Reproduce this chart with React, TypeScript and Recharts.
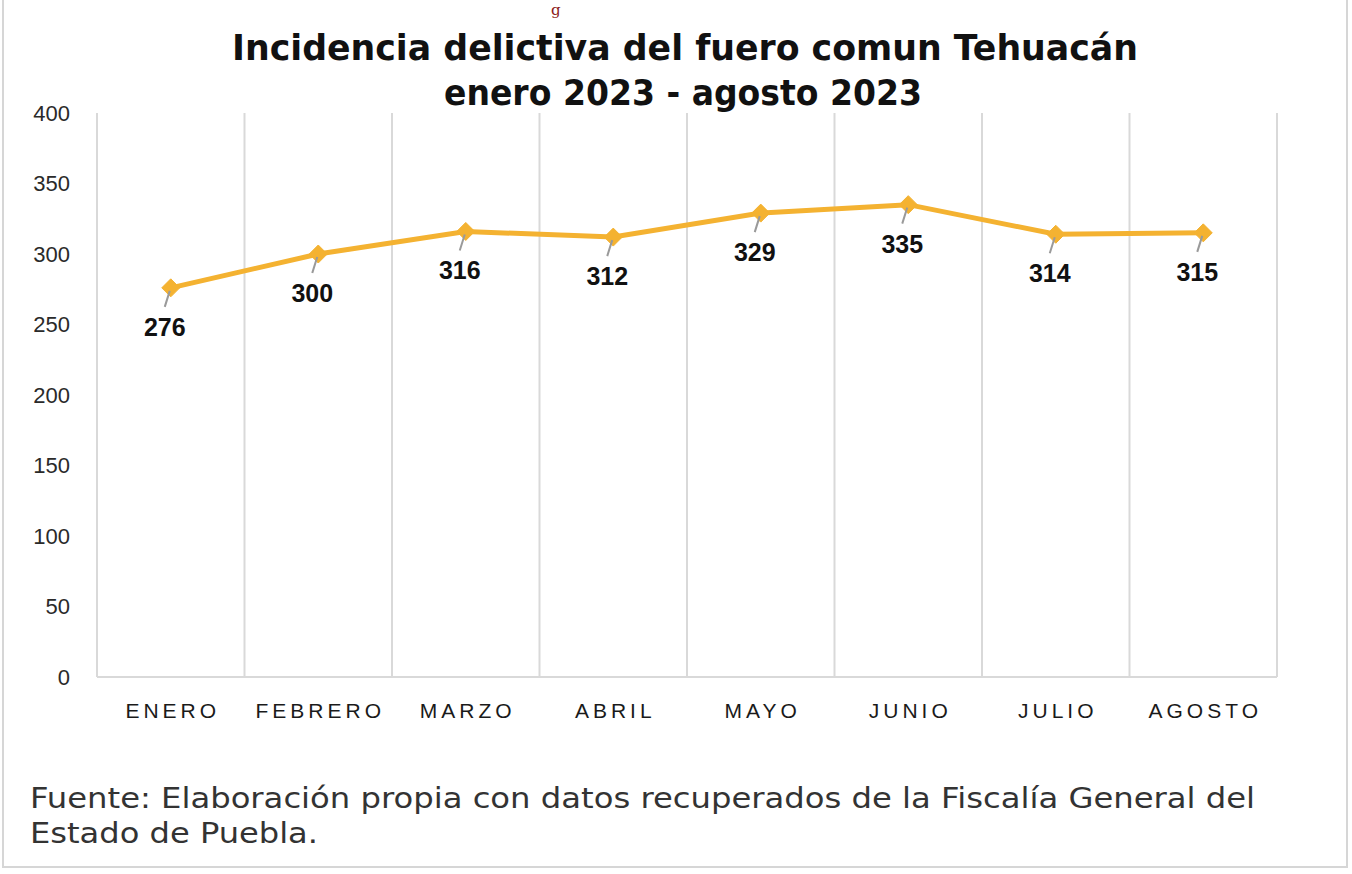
import React from "react";
import { LineChart, Line, XAxis, YAxis, ReferenceLine, LabelList } from "recharts";

const months = ["ENERO", "FEBRERO", "MARZO", "ABRIL", "MAYO", "JUNIO", "JULIO", "AGOSTO"];
const incidents = [276, 300, 316, 312, 329, 335, 314, 315];
const yTicks = [0, 50, 100, 150, 200, 250, 300, 350, 400];
const titleLines = ["Incidencia delictiva del fuero comun Tehuacán", "enero 2023 - agosto 2023"];
const sourceLines = [
  "Fuente: Elaboración propia con datos recuperados de la Fiscalía General del",
  "Estado de Puebla.",
];

const data = months.map((m, i) => ({ pos: i + 0.5, month: m, value: incidents[i] }));
const centers = months.map((_, i) => i + 0.5);
const boundaries = months.map((_, i) => i).concat([months.length]);

const LINE_COLOR = "#F4B231";
const GRID_COLOR = "#D9D9D9";

const Diamond = (props: any) => {
  const { cx, cy } = props;
  if (cx == null || cy == null) return null;
  const r = 9;
  return (
    <polygon
      points={`${cx},${cy - r} ${cx + r},${cy} ${cx},${cy + r} ${cx - r},${cy}`}
      fill={LINE_COLOR}
      stroke={LINE_COLOR}
    />
  );
};

const ValueLabel = (props: any) => {
  const { x, y, value } = props;
  if (x == null || y == null) return null;
  return (
    <g>
      <line x1={x - 1} y1={y + 3} x2={x - 6} y2={y + 19} stroke="#9A9A9A" strokeWidth={2} />
      <text
        x={x - 6}
        y={y + 48}
        textAnchor="middle"
        fontFamily="'Liberation Sans', Arial, sans-serif"
        fontWeight="bold"
        fontSize={25}
        fill="#111"
      >
        {value}
      </text>
    </g>
  );
};

const MonthTick = (props: any) => {
  const { x, y, payload } = props;
  const label = months[Math.floor(payload.value)];
  return (
    <text
      x={x + 2}
      y={y}
      dy={17}
      textAnchor="middle"
      fontFamily="'Liberation Sans', Arial, sans-serif"
      fontSize={21}
      letterSpacing={4}
      fill="#1a1a1a"
    >
      {label}
    </text>
  );
};

export default function App() {
  return (
    <div
      style={{
        position: "absolute",
        left: 0,
        top: 0,
        width: 1352,
        height: 874,
        background: "#fff",
        overflow: "hidden",
      }}
    >
      <div
        style={{
          position: "absolute",
          left: 2,
          top: -4,
          width: 1346,
          height: 872,
          border: "2px solid #D6D6D6",
          boxSizing: "border-box",
        }}
      />
      <div style={{ position: "absolute", left: 0, top: 0 }}>
        <LineChart
          width={1352}
          height={874}
          data={data}
          margin={{ top: 113, right: 75, bottom: 157, left: 37 }}
        >
          <XAxis
            dataKey="pos"
            type="number"
            domain={[0, months.length]}
            ticks={centers}
            tick={<MonthTick />}
            tickLine={false}
            tickSize={0}
            tickMargin={24}
            axisLine={{ stroke: GRID_COLOR, strokeWidth: 2 }}
            height={40}
            interval={0}
          />
          <YAxis
            type="number"
            domain={[0, 400]}
            ticks={yTicks}
            axisLine={false}
            tickLine={false}
            tickSize={0}
            tickMargin={27}
            width={60}
            tick={{ fontFamily: "'Liberation Sans', Arial, sans-serif", fontSize: 22, fill: "#2a2a2a" }}
            interval={0}
          />
          {boundaries.map((b) => (
            <ReferenceLine key={b} x={b} stroke={GRID_COLOR} strokeWidth={2} />
          ))}
          <Line
            type="linear"
            dataKey="value"
            stroke={LINE_COLOR}
            strokeWidth={5}
            dot={<Diamond />}
            activeDot={false}
            isAnimationActive={false}
          >
            <LabelList dataKey="value" content={<ValueLabel />} />
          </Line>
        </LineChart>
      </div>
      <svg
        width={1352}
        height={874}
        style={{ position: "absolute", left: 0, top: 0, pointerEvents: "none" }}
      >
        <text x={551} y={15} fontFamily="'DejaVu Serif', serif" fontSize={15} fill="#8B1A1A">
          g
        </text>
        <text
          x={685}
          y={60}
          textAnchor="middle"
          fontFamily="'DejaVu Sans', sans-serif"
          fontWeight="bold"
          fontSize={36}
          fill="#111"
          textLength={906}
          lengthAdjust="spacingAndGlyphs"
        >
          {titleLines[0]}
        </text>
        <text
          x={683}
          y={105}
          textAnchor="middle"
          fontFamily="'DejaVu Sans', sans-serif"
          fontWeight="bold"
          fontSize={36}
          fill="#111"
          textLength={478}
          lengthAdjust="spacingAndGlyphs"
        >
          {titleLines[1]}
        </text>
        <text
          x={30}
          y={808}
          fontFamily="'DejaVu Sans', sans-serif"
          fontSize={29}
          fill="#333"
          textLength={1225}
          lengthAdjust="spacingAndGlyphs"
        >
          {sourceLines[0]}
        </text>
        <text
          x={30}
          y={843}
          fontFamily="'DejaVu Sans', sans-serif"
          fontSize={29}
          fill="#333"
          textLength={288}
          lengthAdjust="spacingAndGlyphs"
        >
          {sourceLines[1]}
        </text>
      </svg>
    </div>
  );
}
